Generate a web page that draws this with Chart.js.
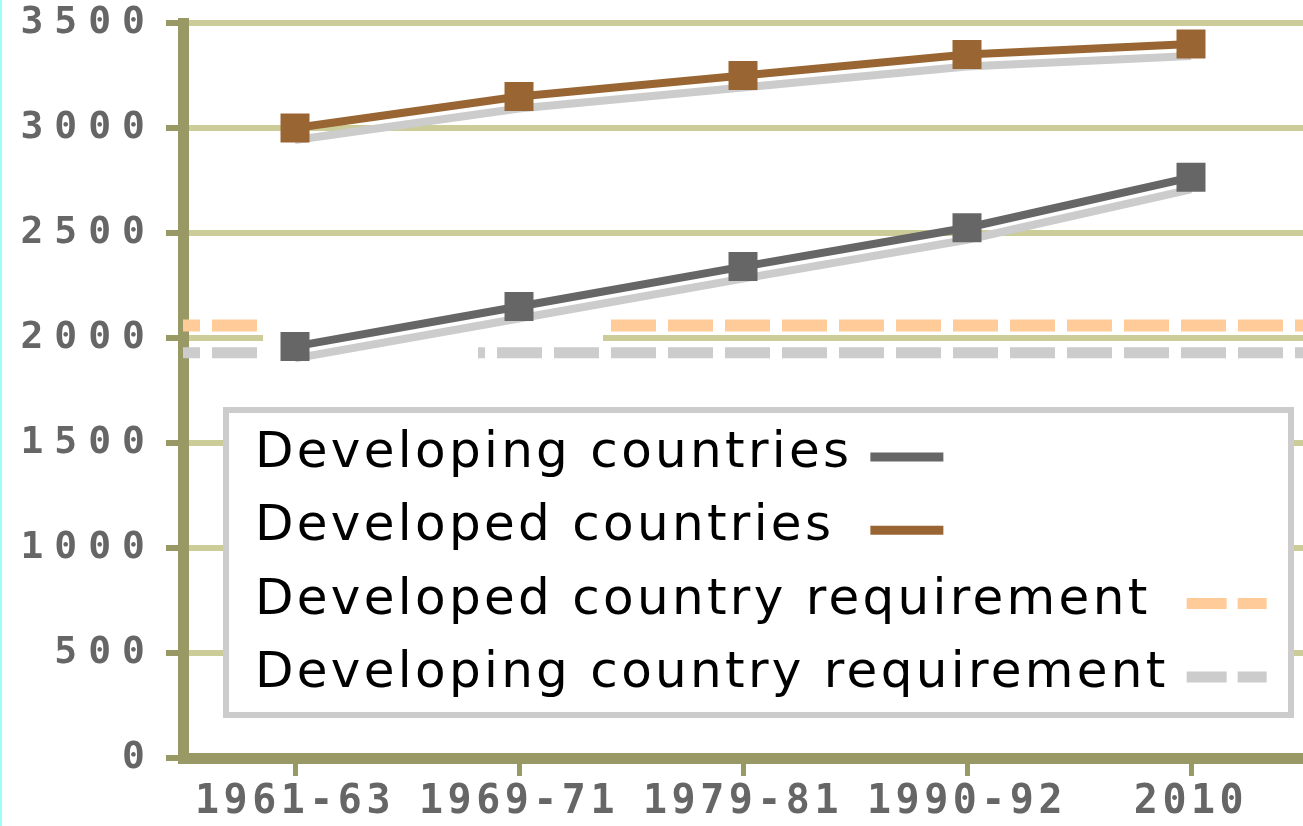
<!DOCTYPE html>
<html>
<head>
<meta charset="utf-8">
<script src="https://cdn.jsdelivr.net/npm/chart.js@4.4.1/dist/chart.umd.min.js"></script>
<style>
  html, body { margin: 0; padding: 0; background: #fff; overflow: hidden; }
  #wrap { position: relative; width: 1303px; height: 826px; }
  #edge { position: absolute; left: 0; top: 0; width: 2px; height: 826px; background: #99ffff; }
</style>
</head>
<body>
<div id="wrap">
  <canvas id="chart" width="1303" height="826"></canvas>
  <div id="edge"></div>
</div>
<script>
const periods = ['1961-63', '1969-71', '1979-81', '1990-92', '2010'];
const developingKcal = [1960, 2150, 2340, 2525, 2765];
const developedKcal = [3000, 3150, 3250, 3350, 3400];
const seriesNames = ['Developing countries', 'Developed countries'];
const requirementNames = ['Developed country requirement', 'Developing country requirement'];
const requirementKcal = [2060, 1930];

const AXIS = '#999966';
const GRID = '#cccc99';
const LABEL = '#666666';

// requirement lines run across the whole plot on a hidden 0..1 axis
function flatLine(value) {
    return [{x: 0, y: value}, {x: 1, y: value}];
}

// chart.js has no letter spacing option, so set it on the ctx per axis
const tickSpacing = {x: 4.5, y: 11};
const spacingPlugin = {
    id: 'tickSpacing',
    afterLayout(chart) {
        Object.values(chart.scales).forEach(scale => {
            if (scale._spaced) return;
            const draw = scale.drawLabels;
            scale.drawLabels = function(area) {
                this.ctx.save();
                this.ctx.letterSpacing = (tickSpacing[this.id] || 0) + 'px';
                draw.call(this, area);
                this.ctx.restore();
            };
            scale._spaced = true;
        });
    }
};

const shadowPlugin = {
    id: 'lineShadow',
    beforeDatasetDraw(chart, args) {
        if (!chart.data.datasets[args.index].shadow) return;
        const ctx = chart.ctx;
        ctx.save();
        ctx.shadowColor = '#cccccc';
        ctx.shadowOffsetX = 0;
        ctx.shadowOffsetY = 12;
        ctx.shadowBlur = 0;
    },
    afterDatasetDraw(chart, args) {
        const ds = chart.data.datasets[args.index];
        if (ds.shadow) chart.ctx.restore();
        if (ds.maskAfter) {
            // white patch left over in the original, over the requirement lines
            const ctx = chart.ctx;
            const y = chart.scales.y;
            const top = y.getPixelForValue(requirementKcal[0]) - 9;
            const mid = (y.getPixelForValue(2000) + y.getPixelForValue(requirementKcal[1])) / 2;
            const bottom = y.getPixelForValue(requirementKcal[1]) + 9;
            ctx.save();
            ctx.fillStyle = '#ffffff';
            ctx.fillRect(263, top, 340, mid - top);
            ctx.fillRect(263, mid, 215, bottom - mid);
            ctx.restore();
        }
    }
};

const legendPlugin = {
    id: 'boxLegend',
    afterDraw(chart) {
        const ctx = chart.ctx;
        const items = chart.data.datasets.filter(d => d.inLegend);
        ctx.save();
        ctx.fillStyle = '#ffffff';
        ctx.fillRect(223, 407, 1071, 311);
        ctx.strokeStyle = '#cccccc';
        ctx.lineWidth = 6;
        ctx.strokeRect(226, 410, 1065, 305);
        ctx.font = '50px "DejaVu Sans"';
        ctx.letterSpacing = '3.3px';
        ctx.textBaseline = 'alphabetic';
        const widths = items.map(d => ctx.measureText(d.label).width);
        items.forEach((d, i) => {
            const y = 467 + i * 73.3;
            ctx.fillStyle = '#000000';
            ctx.fillText(d.label, 255, y);
            // swatches line up in pairs, after the longer label of the pair
            const pair = i - (i % 2);
            const x = 255 + Math.max(widths[pair], widths[pair + 1]) + 18;
            const dashed = !!d.borderDash;
            ctx.beginPath();
            ctx.setLineDash(dashed ? [40, 11] : []);
            ctx.strokeStyle = d.borderColor;
            ctx.lineWidth = dashed ? 11 : 9;
            ctx.moveTo(x, y - 10);
            ctx.lineTo(x + (dashed ? 80 : 73), y - 10);
            ctx.stroke();
        });
        ctx.restore();
    }
};

const chart = new Chart(document.querySelector('#chart'), {
    type: 'line',
    data: {
        labels: periods,
        datasets: [
            {
                label: seriesNames[0],
                data: developingKcal,
                borderColor: '#666666',
                borderWidth: 8,
                pointRadius: 0,
                shadow: true,
                inLegend: true,
                order: 4
            },
            {
                label: seriesNames[1],
                data: developedKcal,
                borderColor: '#996633',
                borderWidth: 8,
                pointRadius: 0,
                shadow: true,
                inLegend: true,
                order: 3
            },
            {
                label: requirementNames[0],
                data: flatLine(requirementKcal[0]),
                xAxisID: 'xr',
                borderColor: '#ffcc99',
                borderWidth: 12,
                borderDash: [45, 12],
                borderDashOffset: 28,
                pointRadius: 0,
                inLegend: true,
                order: 6
            },
            {
                label: requirementNames[1],
                data: flatLine(requirementKcal[1]),
                xAxisID: 'xr',
                borderColor: '#cccccc',
                borderWidth: 11,
                borderDash: [45, 12],
                borderDashOffset: 28,
                pointRadius: 0,
                inLegend: true,
                maskAfter: true,
                order: 5
            },
            {
                label: seriesNames[0] + ' markers',
                data: developingKcal,
                showLine: false,
                pointStyle: 'rect',
                pointRadius: 20.5,
                pointBorderWidth: 0,
                pointBackgroundColor: '#666666',
                order: 2
            },
            {
                label: seriesNames[1] + ' markers',
                data: developedKcal,
                showLine: false,
                pointStyle: 'rect',
                pointRadius: 20.5,
                pointBorderWidth: 0,
                pointBackgroundColor: '#996633',
                order: 1
            }
        ]
    },
    options: {
        responsive: false,
        animation: false,
        devicePixelRatio: 1,
        layout: {autoPadding: false, padding: {top: 23, left: 0, right: 0, bottom: 0}},
        plugins: {
            legend: {display: false},
            tooltip: {enabled: false}
        },
        scales: {
            x: {
                offset: true,
                ticks: {
                    color: LABEL,
                    font: {family: 'DejaVu Sans Mono', size: 40, weight: 'bold'},
                    padding: 3,
                    autoSkip: false,
                    maxRotation: 0
                },
                grid: {drawOnChartArea: false, tickColor: AXIS, tickWidth: 5, tickLength: 18},
                border: {color: AXIS, width: 11},
                afterFit(scale) { scale.height = 68; }
            },
            xr: {
                type: 'linear',
                display: false,
                min: 0,
                max: 1
            },
            y: {
                min: 0,
                max: 3500,
                ticks: {
                    stepSize: 500,
                    color: LABEL,
                    font: {family: 'DejaVu Sans Mono', size: 38, weight: 'bold', lineHeight: 0.5},
                    padding: 10,
                    callback: value => String(value)
                },
                grid: {color: GRID, lineWidth: 6, tickColor: AXIS, tickWidth: 6, tickLength: 17},
                border: {color: AXIS, width: 11},
                afterFit(scale) { scale.width = 183; }
            }
        }
    },
    plugins: [spacingPlugin, shadowPlugin, legendPlugin]
});
chart.draw();
</script>
</body>
</html>
